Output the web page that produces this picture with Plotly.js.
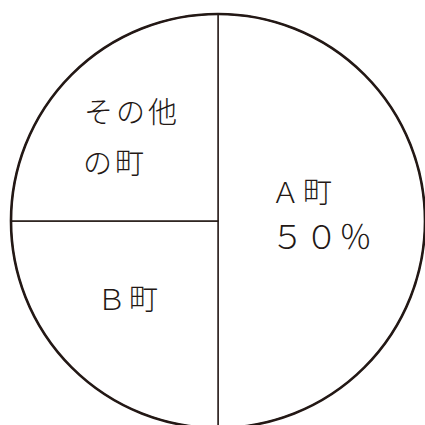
<!DOCTYPE html>
<html>
<head>
<meta charset="utf-8">
<script src="https://cdn.plot.ly/plotly-3.0.1.min.js"></script>
<style>
  html, body { margin: 0; padding: 0; overflow: hidden; background: #fff; }
</style>
</head>
<body>
<div id="plot" style="width:425px;height:428px;"></div>
<script>
// 町ごとの割合
var towns = ['A町', 'B町', 'その他の町'];
var shares = [50, 25, 25];
// 図の中に書く文字（行ごと）
var labelLines = [['Ａ町', '５０％'], ['Ｂ町'], ['その他', 'の町']];

var ink = '#231815';

var slices = {
  type: 'pie',
  labels: towns,
  values: shares,
  sort: false,
  direction: 'clockwise',
  rotation: 0,
  textinfo: 'none',
  hoverinfo: 'label+percent',
  marker: {
    colors: ['#ffffff', '#ffffff', '#ffffff'],
    line: { color: ink, width: 1.4 }
  },
  showlegend: false
};

// 外周だけ太い線
var rim = {
  type: 'pie',
  values: [1],
  labels: ['rim'],
  textinfo: 'none',
  hoverinfo: 'skip',
  marker: {
    colors: ['rgba(0,0,0,0)'],
    line: { color: ink, width: 2.6 }
  },
  showlegend: false
};

// label anchor (left, middle) in paper coords, per line
var anchors = [
  [[0.622, 0.575], [0.624, 0.466]],
  [[0.203, 0.317]],
  [[0.172, 0.768], [0.170, 0.645]]
];
var sizes = [[29, 33], [29], [29, 29]];
var spacing = [[3, 1], [3], [3, 3]];

var annotations = [];
for (var i = 0; i < labelLines.length; i++) {
  for (var j = 0; j < labelLines[i].length; j++) {
    annotations.push({
      xref: 'paper', yref: 'paper',
      x: anchors[i][j][0], y: anchors[i][j][1],
      xanchor: 'left', yanchor: 'middle',
      showarrow: false,
      text: '<span style="letter-spacing:' + spacing[i][j] + 'px">' + labelLines[i][j] + '</span>',
      font: { family: '"Noto Sans CJK JP", sans-serif', size: sizes[i][j], color: ink, weight: 300 }
    });
  }
}

var layout = {
  width: 425,
  height: 428,
  margin: { l: 11, r: 0, t: 14, b: 0, pad: 0 },
  paper_bgcolor: '#ffffff',
  plot_bgcolor: '#ffffff',
  showlegend: false,
  annotations: annotations
};

Plotly.newPlot('plot', [slices, rim], layout, { staticPlot: true, displayModeBar: false });
</script>
</body>
</html>
